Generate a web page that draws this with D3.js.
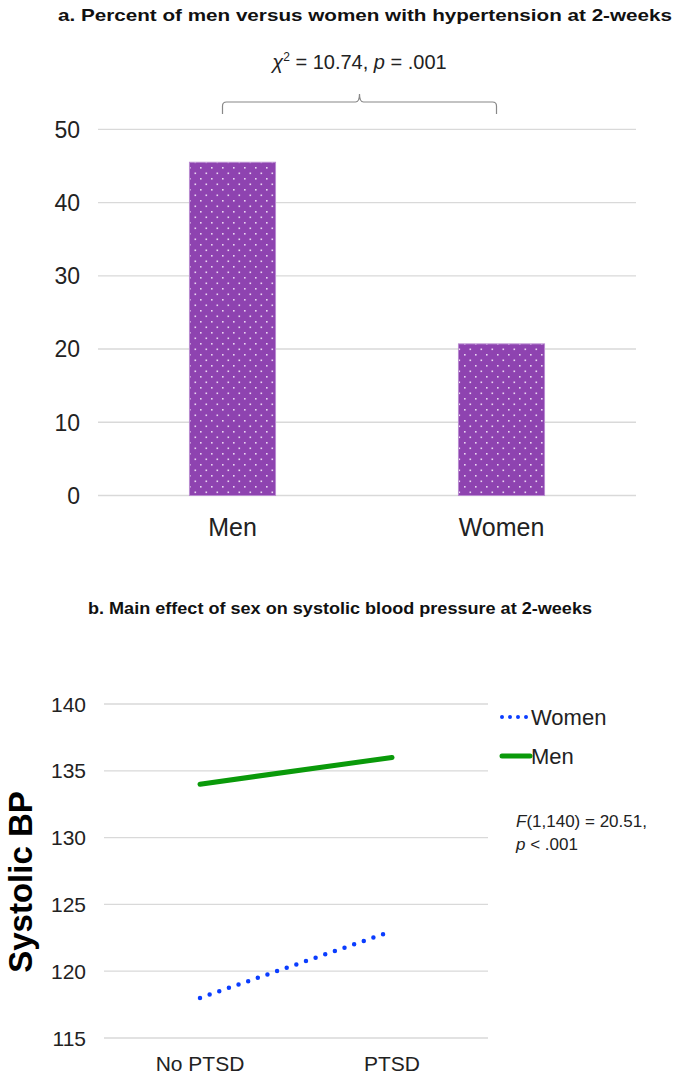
<!DOCTYPE html>
<html><head><meta charset="utf-8">
<script src="https://cdn.jsdelivr.net/npm/d3@7"></script>
<style>body{margin:0;background:#fff}svg{display:block;font-family:"Liberation Sans",Arial,sans-serif}</style>
</head><body>
<svg id="c" width="688" height="1076"></svg>
<script>
// ---- data ----
const barCategories = ["Men", "Women"];
const barValues = [45.5, 20.7];
const barTicks = [0, 10, 20, 30, 40, 50];

const lineCategories = ["No PTSD", "PTSD"];
const womenValues = [118, 123];
const menValues = [134, 136];
const lineTicks = [115, 120, 125, 130, 135, 140];

const titleA = "a. Percent of men versus women with hypertension at 2-weeks";
const titleB = "b. Main effect of sex on systolic blood pressure at 2-weeks";

const svg = d3.select("#c");
const defs = svg.append("defs");
const pat = defs.append("pattern").attr("id","dots").attr("patternUnits","userSpaceOnUse")
  .attr("width",11).attr("height",11);
pat.append("rect").attr("width",11).attr("height",11).attr("fill","#8e43b0");
pat.append("rect").attr("x",2).attr("y",2).attr("width",1.6).attr("height",1.6).attr("fill","#ead6f2");
pat.append("rect").attr("x",7.5).attr("y",7.5).attr("width",1.6).attr("height",1.6).attr("fill","#ead6f2");

// ---- chart a ----
svg.append("text").attr("x",365).attr("y",21).attr("text-anchor","middle")
  .attr("font-weight","bold").attr("font-size",17).attr("fill","#111")
  .attr("textLength",614).attr("lengthAdjust","spacingAndGlyphs").text(titleA);

const xa = d3.scaleBand().domain(barCategories).range([98,636]).paddingInner(0.68).paddingOuter(0.34);
const ya = d3.scaleLinear().domain([0,50]).range([495.5,129.3]);

const gA = svg.append("g");
gA.selectAll("line.grid").data(barTicks).join("line")
  .attr("x1",98).attr("x2",636).attr("y1",d=>ya(d)).attr("y2",d=>ya(d))
  .attr("stroke","#d9d9d9").attr("stroke-width",1.3);
gA.selectAll("text.yt").data(barTicks).join("text")
  .attr("x",80).attr("y",d=>ya(d)).attr("dy","0.36em").attr("text-anchor","end")
  .attr("font-size",23).attr("fill","#222").text(d=>d);
gA.selectAll("rect.bar").data(barValues).join("rect")
  .attr("x",(d,i)=>xa(barCategories[i])).attr("width",xa.bandwidth())
  .attr("y",d=>ya(d)).attr("height",d=>ya(0)-ya(d))
  .attr("fill","url(#dots)").attr("stroke","#b98bd0").attr("stroke-width",1);
gA.selectAll("text.xc").data(barCategories).join("text")
  .attr("x",d=>xa(d)+xa.bandwidth()/2).attr("y",527).attr("dy","0.36em").attr("text-anchor","middle")
  .attr("font-size",25).attr("fill","#222").text(d=>d);

// brace
const bx1 = xa("Men")+xa.bandwidth()/2-10, bx2 = xa("Women")+xa.bandwidth()/2-5, bm=(bx1+bx2)/2;
gA.append("path").attr("fill","none").attr("stroke","#888").attr("stroke-width",1.2)
  .attr("d",`M${bx1},114 L${bx1},106 Q${bx1},102 ${bx1+4},102 L${bm-4},102 Q${bm},102 ${bm},94 Q${bm},102 ${bm+4},102 L${bx2-4},102 Q${bx2},102 ${bx2},106 L${bx2},114`);
const chi = gA.append("text").attr("x",bm).attr("y",69).attr("text-anchor","middle").attr("font-size",20).attr("fill","#222");
chi.append("tspan").attr("font-style","italic").text("χ");
chi.append("tspan").attr("font-size",12).attr("dy",-8).text("2");
chi.append("tspan").attr("dy",8).text(" = 10.74, ");
chi.append("tspan").attr("font-style","italic").text("p");
chi.append("tspan").text(" = .001");

// ---- chart b ----
svg.append("text").attr("x",340).attr("y",614).attr("text-anchor","middle")
  .attr("font-weight","bold").attr("font-size",17).attr("fill","#111")
  .attr("textLength",504).attr("lengthAdjust","spacingAndGlyphs").text(titleB);

const xb = d3.scalePoint().domain(lineCategories).range([104,488]).padding(0.5);
const yb = d3.scaleLinear().domain([115,140]).range([1038,704]);
const gB = svg.append("g");
gB.selectAll("line.grid").data(lineTicks).join("line")
  .attr("x1",104).attr("x2",488).attr("y1",d=>yb(d)).attr("y2",d=>yb(d))
  .attr("stroke","#d9d9d9").attr("stroke-width",1.3);
gB.selectAll("text.yt").data(lineTicks).join("text")
  .attr("x",86).attr("y",d=>yb(d)).attr("dy","0.36em").attr("text-anchor","end")
  .attr("font-size",21).attr("fill","#222").text(d=>d);
gB.selectAll("text.xc").data(lineCategories).join("text")
  .attr("x",d=>xb(d)).attr("y",1063).attr("dy","0.36em").attr("text-anchor","middle")
  .attr("font-size",21).attr("fill","#222").text(d=>d);

const line = d3.line().x((d,i)=>xb(lineCategories[i])).y(d=>yb(d));
gB.append("path").datum(menValues).attr("d",line).attr("fill","none")
  .attr("stroke","#0a9a0a").attr("stroke-width",5).attr("stroke-linecap","round");
gB.append("path").datum(womenValues).attr("d",line).attr("fill","none")
  .attr("stroke","#0a3dff").attr("stroke-width",4.5).attr("stroke-linecap","round")
  .attr("stroke-dasharray","0 10.2");

svg.append("text").attr("transform","translate(32,882) rotate(-90)").attr("text-anchor","middle")
  .attr("font-weight","bold").attr("font-size",33).attr("fill","#000").text("Systolic BP");

// legend
const legend = [{name:"Women",color:"#0a3dff",dash:"0 8",w:4,y:717},{name:"Men",color:"#0a9a0a",dash:null,w:5,y:756}];
const lg = svg.selectAll("g.lg").data(legend).join("g");
lg.append("line").attr("x1",502).attr("x2",530).attr("y1",d=>d.y).attr("y2",d=>d.y)
  .attr("stroke",d=>d.color).attr("stroke-width",d=>d.w).attr("stroke-linecap","round")
  .attr("stroke-dasharray",d=>d.dash);
lg.append("text").attr("x",531).attr("y",d=>d.y).attr("dy","0.36em").attr("font-size",22).attr("fill","#222").text(d=>d.name);

const ft = svg.append("text").attr("x",516).attr("y",827).attr("font-size",17).attr("fill","#222");
ft.append("tspan").attr("font-style","italic").text("F");
ft.append("tspan").text("(1,140) = 20.51,");
const pt = svg.append("text").attr("x",516).attr("y",850).attr("font-size",17).attr("fill","#222");
pt.append("tspan").attr("font-style","italic").text("p");
pt.append("tspan").text(" < .001");
</script>
</body></html>
